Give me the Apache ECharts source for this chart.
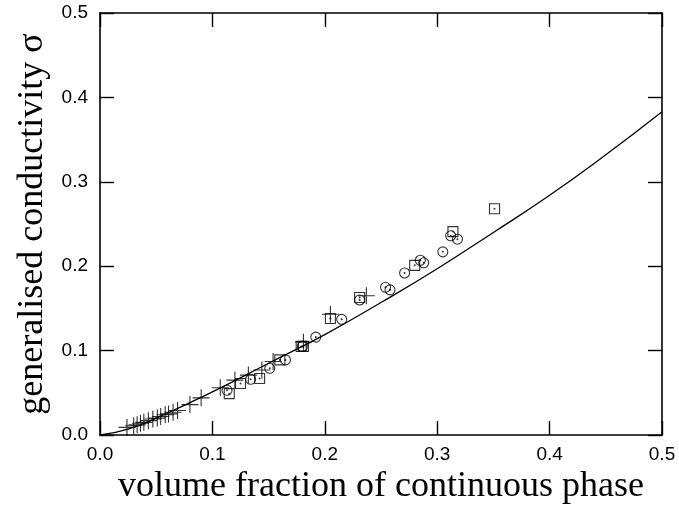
<!DOCTYPE html>
<html>
<head>
<meta charset="utf-8">
<script src="https://cdn.jsdelivr.net/npm/echarts@6/dist/echarts.min.js"></script>
<style>html,body{margin:0;padding:0;background:#fff}#c{width:679px;height:511px}</style>
</head>
<body>
<div id="c"></div>
<script>
// x-axis ticks and y-axis ticks
const xTicks = [0.0, 0.1, 0.2, 0.3, 0.4, 0.5];
const yTicks = [0.0, 0.1, 0.2, 0.3, 0.4, 0.5];

// theoretical curve
const curveX = [0, 0.025, 0.05, 0.1, 0.15, 0.2, 0.25, 0.3, 0.35, 0.4, 0.45, 0.5];
const curveY = [0, 0.007, 0.020, 0.051, 0.085, 0.119, 0.157, 0.197, 0.240, 0.284, 0.332, 0.383];

// plus markers
const plusX = [0.024, 0.030, 0.033, 0.036, 0.039, 0.043, 0.047, 0.051, 0.054, 0.058, 0.061, 0.065, 0.069,
  0.080, 0.090, 0.107, 0.120, 0.132, 0.144, 0.154, 0.181, 0.205, 0.237];
const plusY = [0.009, 0.011, 0.012, 0.014, 0.015, 0.017, 0.019, 0.020, 0.022, 0.024, 0.025, 0.027, 0.029,
  0.036, 0.044, 0.056, 0.065, 0.071, 0.077, 0.087, 0.110, 0.143, 0.165];

// circle markers
const circX = [0.113, 0.134, 0.151, 0.165, 0.180, 0.192, 0.215, 0.231, 0.254, 0.258, 0.271, 0.285, 0.288, 0.305, 0.312, 0.318];
const circY = [0.053, 0.066, 0.079, 0.089, 0.105, 0.116, 0.137, 0.160, 0.175, 0.172, 0.192, 0.207, 0.204, 0.217, 0.236, 0.232];

// square markers
const sqX = [0.115, 0.125, 0.142, 0.160, 0.179, 0.181, 0.205, 0.231, 0.280, 0.314, 0.351];
const sqY = [0.049, 0.061, 0.067, 0.089, 0.105, 0.105, 0.138, 0.163, 0.201, 0.241, 0.268];

const xName = 'volume fraction of continuous phase';
const yName = 'generalised conductivity σ';

const zip = (a, b) => a.map((v, i) => [v, b[i]]);

const chart = echarts.init(document.getElementById('c'), null, {renderer: 'canvas'});
const axisCommon = {
  min: 0, max: 0.5, interval: 0.1,
  axisLine: {show: true, onZero: false, lineStyle: {color: '#000', width: 1.6}},
  axisTick: {show: true, inside: true, length: 14, lineStyle: {color: '#000', width: 1.4}},
  splitLine: {show: false}
};
const serif = '"Liberation Serif", "Times New Roman", serif';
const sans = '"Liberation Sans", Arial, sans-serif';

chart.setOption({
  animation: false,
  backgroundColor: '#fff',
  grid: {left: 100, right: 17, top: 13, bottom: 76, containLabel: false},
  xAxis: [
    Object.assign({}, axisCommon, {
      type: 'value', position: 'bottom',
      axisLabel: {color: '#000', fontFamily: sans, fontSize: 19, margin: 10, formatter: v => v.toFixed(1)},
      name: xName, nameLocation: 'middle', nameGap: 29,
      nameTextStyle: {color: '#000', fontFamily: serif, fontSize: 36}
    }),
    Object.assign({}, axisCommon, {type: 'value', position: 'top', axisLabel: {show: false}})
  ],
  yAxis: [
    Object.assign({}, axisCommon, {
      type: 'value', position: 'left',
      axisLabel: {color: '#000', fontFamily: sans, fontSize: 19, margin: 12, formatter: v => v.toFixed(1)},
      name: yName, nameLocation: 'middle', nameGap: 44, nameRotate: 90,
      nameTextStyle: {color: '#000', fontFamily: serif, fontSize: 36}
    }),
    Object.assign({}, axisCommon, {type: 'value', position: 'right', axisLabel: {show: false}})
  ],
  series: [
    {
      type: 'line', data: zip(curveX, curveY), smooth: true, showSymbol: false,
      lineStyle: {color: '#000', width: 1.3}, silent: true, z: 2
    },
    {
      type: 'scatter', data: zip(plusX, plusY), symbol: 'path://M0,-1L0,1M-1,0L1,0', symbolSize: 17,
      itemStyle: {color: 'none', borderColor: '#000', borderWidth: 1.1}, z: 3
    },
    {
      type: 'scatter', data: zip(circX, circY), symbol: 'circle', symbolSize: 10,
      itemStyle: {color: 'rgba(255,255,255,0)', borderColor: '#000', borderWidth: 1.1}, z: 3
    },
    {
      type: 'scatter', data: zip(circX, circY), symbol: 'circle', symbolSize: 2,
      itemStyle: {color: '#000'}, z: 4
    },
    {
      type: 'scatter', data: zip(sqX, sqY), symbol: 'rect', symbolSize: 10,
      itemStyle: {color: 'rgba(255,255,255,0)', borderColor: '#000', borderWidth: 1.1}, z: 3
    },
    {
      type: 'scatter', data: zip(sqX, sqY), symbol: 'circle', symbolSize: 2,
      itemStyle: {color: '#000'}, z: 4
    }
  ]
});
</script>
</body>
</html>
